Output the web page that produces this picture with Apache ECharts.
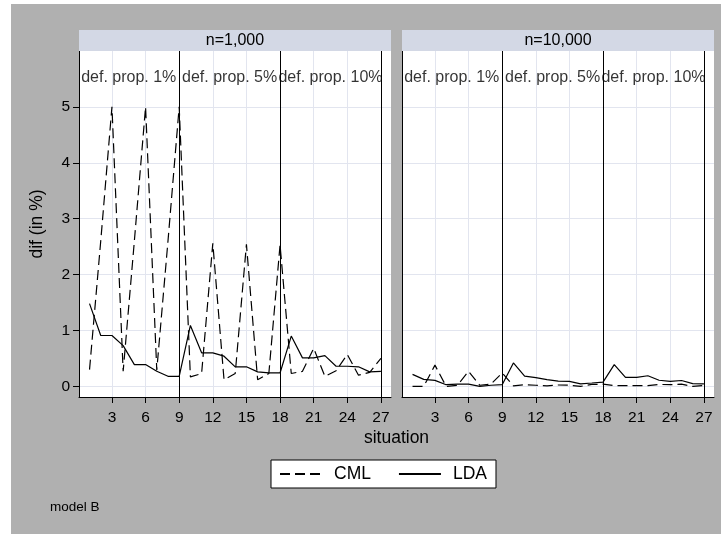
<!DOCTYPE html>
<html><head><meta charset="utf-8">
<script src="https://cdn.jsdelivr.net/npm/echarts@6/dist/echarts.min.js"></script>
<style>html,body{margin:0;padding:0;background:#fff}#c{width:727px;height:534px}</style>
</head><body><div id="c"></div>
<script>
const situations = [1,2,3,4,5,6,7,8,9,10,11,12,13,14,15,16,17,18,19,20,21,22,23,24,25,26,27];
const panelTitles = ['n=1,000', 'n=10,000'];
const seriesNames = ['CML', 'LDA'];
const cmlN1000 = [0.30,2.60,5.00,0.27,2.60,5.00,0.29,2.60,5.00,0.17,0.23,2.56,0.12,0.23,2.54,0.12,0.23,2.53,0.23,0.27,0.68,0.18,0.28,0.57,0.20,0.25,0.50];
const ldaN1000 = [1.48,0.91,0.91,0.73,0.39,0.39,0.27,0.18,0.18,1.09,0.60,0.60,0.54,0.35,0.35,0.26,0.24,0.24,0.90,0.51,0.51,0.55,0.36,0.36,0.35,0.26,0.27];
const cmlN10000 = [0.00,0.00,0.38,0.00,0.02,0.27,0.02,0.04,0.24,0.01,0.03,0.02,0.01,0.025,0.02,0.00,0.035,0.04,0.015,0.015,0.015,0.015,0.035,0.03,0.04,0.00,0.015];
const ldaN10000 = [0.215,0.125,0.107,0.03,0.04,0.04,0.00,0.02,0.03,0.42,0.185,0.155,0.12,0.095,0.09,0.045,0.06,0.077,0.39,0.16,0.16,0.19,0.11,0.09,0.105,0.05,0.045];
const xTicks = [3,6,9,12,15,18,21,24,27];
const yTicks = [0,1,2,3,4,5];
const dividers = [9,18,27];
const groupLabels = ['def. prop. 1%', 'def. prop. 5%', 'def. prop. 10%'];
const groupLabelX = [4.5, 13.5, 22.5];
const groupLabelY = 5.53;
const xTitle = 'situation';
const yTitle = 'dif (in %)';
const noteText = 'model B';

const FONT = '"Liberation Sans", Arial, Helvetica, sans-serif';
const grids = [
  {left: 79, top: 51, width: 312, height: 346},
  {left: 402, top: 51, width: 312, height: 346}
];
const GRIDLINE = '#e2e5ef';
const STRIP = '#d3d8e5';

const chart = echarts.init(document.getElementById('c'), null, {renderer: 'canvas'});

function pairs(vals) { return situations.map((s, i) => [s, vals[i]]); }

const panelData = [[cmlN1000, ldaN1000], [cmlN10000, ldaN10000]];

const xAxes = grids.map((g, i) => ({
  type: 'value', gridIndex: i, min: 0.06, max: 27.9,
  axisLine: {show: true, onZero: false, lineStyle: {color: '#000', width: 1}},
  axisTick: {show: true, length: 6, customValues: xTicks, lineStyle: {color: '#000'}},
  axisLabel: {show: true, customValues: xTicks, margin: 13, fontSize: 15.5, color: '#000', fontFamily: FONT},
  splitLine: {show: true, lineStyle: {color: GRIDLINE, width: 1}}
}));
const yAxes = grids.map((g, i) => ({
  type: 'value', gridIndex: i, min: -0.19, max: 6.0,
  axisLine: {show: true, onZero: false, lineStyle: {color: '#000', width: 1}},
  axisTick: {show: i === 0, length: 6, customValues: yTicks, lineStyle: {color: '#000'}},
  axisLabel: {show: i === 0, customValues: yTicks, margin: 9, fontSize: 15.5, color: '#000', fontFamily: FONT},
  splitLine: {show: true, lineStyle: {color: GRIDLINE, width: 1}},
  name: i === 0 ? yTitle : '', nameLocation: 'middle', nameGap: 33,
  nameTextStyle: {fontSize: 17.5, color: '#000', fontFamily: FONT}
}));

const series = [];
panelData.forEach((pd, p) => {
  series.push({
    name: seriesNames[0], type: 'line', xAxisIndex: p, yAxisIndex: p,
    data: pairs(pd[0]), symbol: 'none', silent: true,
    itemStyle: {color: '#000'},
    lineStyle: {color: '#000', width: 1.2, type: [10, 5]}, z: 3
  });
  series.push({
    name: seriesNames[1], type: 'line', xAxisIndex: p, yAxisIndex: p,
    data: pairs(pd[1]), symbol: 'none', silent: true,
    itemStyle: {color: '#000'},
    lineStyle: {color: '#000', width: 1.2, type: 'solid'}, z: 3,
    markLine: {
      silent: true, symbol: 'none', label: {show: false},
      lineStyle: {color: '#000', width: 1, type: 'solid'},
      data: dividers.map(d => ({xAxis: d}))
    }
  });
  series.push({
    type: 'scatter', xAxisIndex: p, yAxisIndex: p, silent: true,
    symbolSize: 1, itemStyle: {color: 'rgba(0,0,0,0)'},
    data: groupLabels.map((t, i) => ({name: t, value: [groupLabelX[i], groupLabelY]})),
    label: {show: true, position: 'inside', formatter: '{b}', fontSize: 16, color: '#000', fontFamily: FONT},
    z: 4
  });
});

const graphic = [
  {type: 'rect', shape: {x: 11, y: 4, width: 710, height: 530}, style: {fill: '#b0b0b0'}, z: -100, silent: true}
];
grids.forEach((g, i) => {
  graphic.push({type: 'rect', shape: {x: g.left, y: 30, width: g.width, height: 21}, style: {fill: STRIP}, z: 1, silent: true});
  graphic.push({type: 'text', x: g.left + g.width / 2, y: 40.5, style: {text: panelTitles[i], fill: '#000', font: '16px ' + FONT, textAlign: 'center', textVerticalAlign: 'middle'}, z: 2, silent: true});
});
graphic.push({type: 'text', x: 396.5, y: 438, style: {text: xTitle, fill: '#000', font: '17.5px ' + FONT, textAlign: 'center', textVerticalAlign: 'middle'}, z: 2, silent: true});
graphic.push({type: 'text', x: 50, y: 507, style: {text: noteText, fill: '#000', font: '13.5px ' + FONT, textAlign: 'left', textVerticalAlign: 'middle'}, z: 2, silent: true});

chart.setOption({
  animation: false,
  backgroundColor: '#fff',
  textStyle: {fontFamily: FONT},
  grid: grids.map(g => Object.assign({show: true, backgroundColor: '#fff', borderWidth: 0}, g)),
  xAxis: xAxes,
  yAxis: yAxes,
  legend: {
    data: seriesNames, left: 271, top: 460, orient: 'horizontal', selectedMode: false,
    backgroundColor: '#fff', borderColor: '#000', borderWidth: 1, borderRadius: 0,
    padding: [5, 9, 5, 8], itemWidth: 42, itemHeight: 18, itemGap: 27,
    itemStyle: {opacity: 0},
    textStyle: {fontSize: 17.5, color: '#000', fontFamily: FONT, padding: [0, 0, 0, 7]}
  },
  graphic: graphic,
  series: series
});
</script></body></html>
